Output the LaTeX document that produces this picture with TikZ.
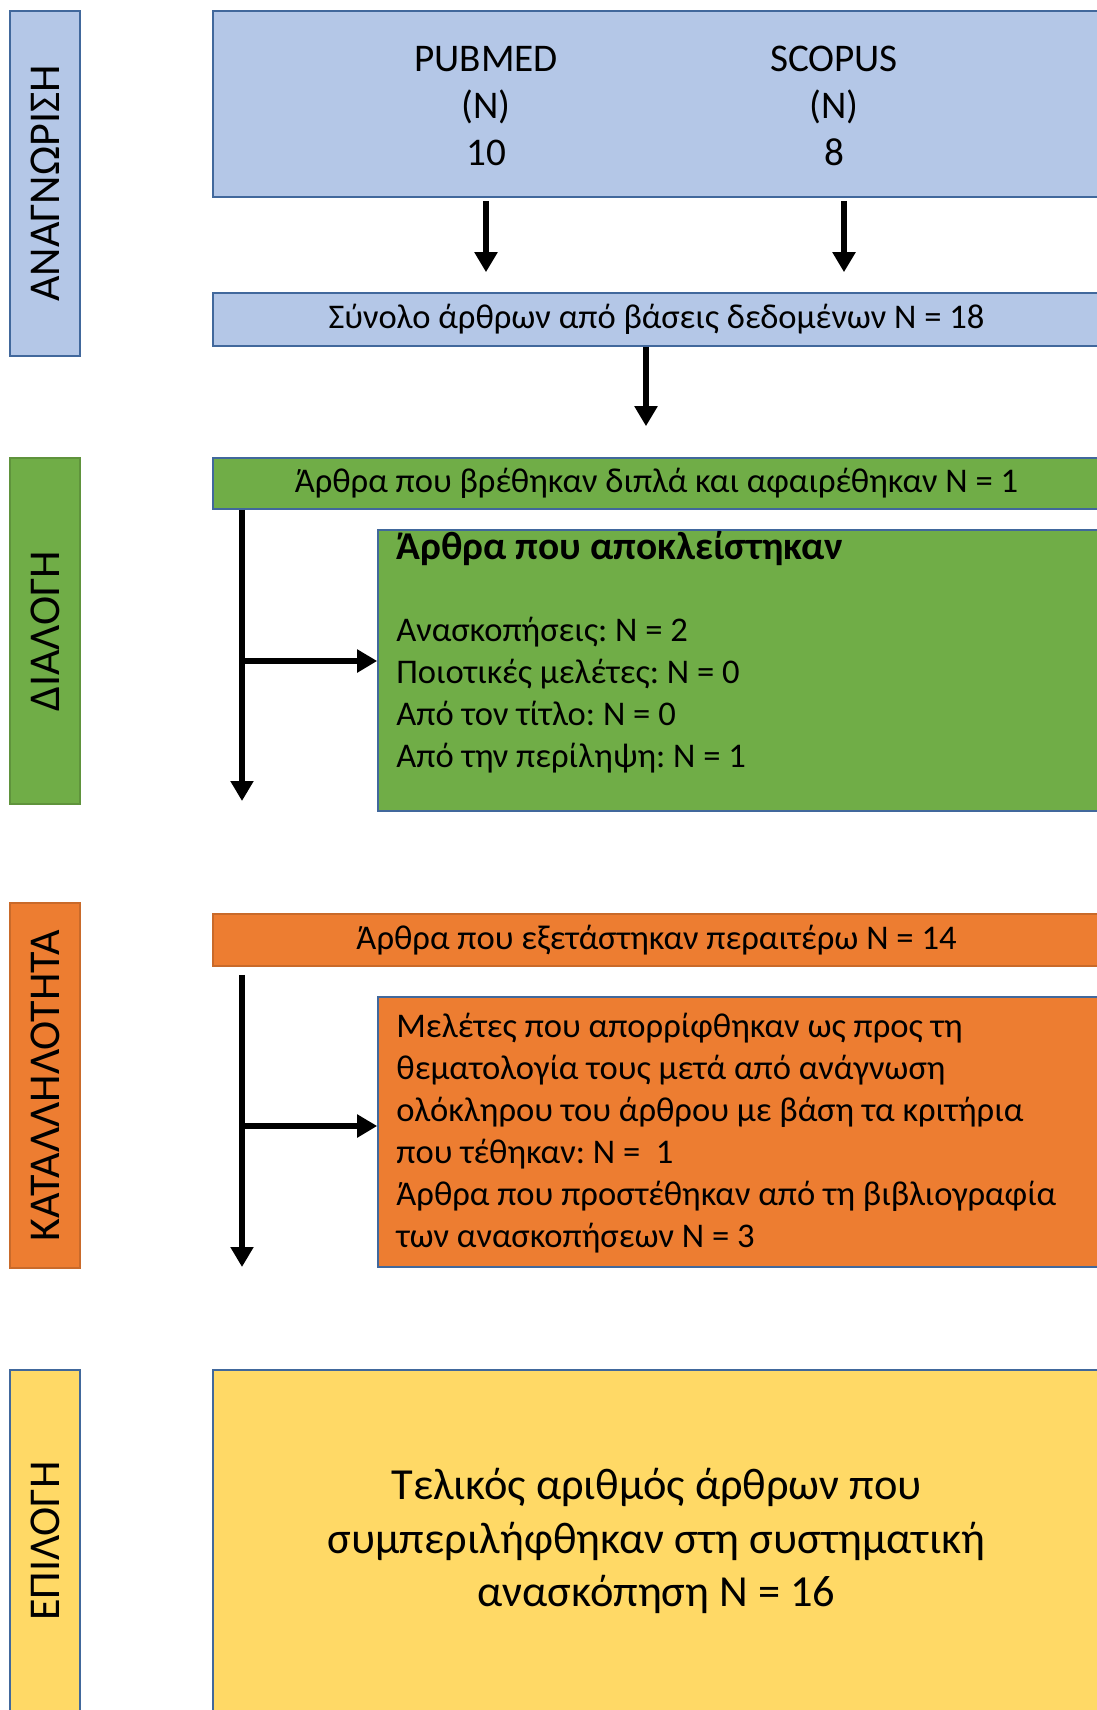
\documentclass[tikz,border=0pt]{standalone}
\usepackage{fontspec}
\setmainfont{Carlito}
\frenchspacing
\usetikzlibrary{arrows.meta, positioning}
\definecolor{identblue}{HTML}{B4C7E7}
\definecolor{screengreen}{HTML}{70AD47}
\definecolor{eligorange}{HTML}{ED7D31}
\definecolor{inclyellow}{HTML}{FFD966}
\definecolor{boxline}{HTML}{41689C}

\begin{document}
\begin{tikzpicture}[x=0.5pt, y=-0.5pt,
		box/.style={draw=boxline, line width=0.8pt, inner sep=0pt},
		stagebox/.style={box, rotate=90, minimum height=35pt,
			font=\fontsize{22}{26}\selectfont},
		wide/.style={minimum width=443.5pt},
		side/.style={minimum width=361pt},
		small/.style={font=\fontsize{17.3}{21}\selectfont},
		listtext/.style={small, align=left, anchor=west, inner sep=0pt},
		dbtext/.style={align=center, font=\fontsize{19.6}{23.7}\selectfont},
		flow/.style={-{Triangle[length=10pt, width=11pt]}, line width=2.8pt}]
	\clip (0,0) rectangle (1097,1710);
	%--- stage labels on the left ---
	\node[stagebox, fill=identblue, minimum width=172.5pt] (identlab) at (45,183.5) {ΑΝΑΓΝΩΡΙΣΗ};
	\node[stagebox, fill=screengreen, draw=screengreen!85!black, minimum width=173pt] (screenlab) at (45,631) {ΔΙΑΛΟΓΗ};
	\node[stagebox, fill=eligorange, draw=eligorange!85!black, minimum width=182.5pt] (eliglab) at (45,1085.5) {ΚΑΤΑΛΛΗΛΟΤΗΤΑ};
	\node[stagebox, fill=inclyellow, minimum width=171pt] (incllab) at (45,1541) {ΕΠΙΛΟΓΗ};
	%--- identification ---
	\node[box, wide, fill=identblue, minimum height=93pt] (dbbox) at (656.5,104) {};
	\node[dbtext] (pubmed) at (486,106) {PUBMED\\(N)\\10};
	\node[dbtext] (scopus) at (834,106) {SCOPUS\\(N)\\8};
	\node[box, wide, fill=identblue, minimum height=26.5pt, small] (total) at (656.5,319.5)
	{Σύνολο άρθρων από βάσεις δεδομένων N = 18};
	\draw[flow, shorten <=1.5pt, shorten >=10pt] (pubmed |- dbbox.south) -- (pubmed |- total.north);
	\draw[flow, shorten <=1.5pt, shorten >=10pt] ([xshift=5pt]scopus |- dbbox.south) -- ([xshift=5pt]scopus |- total.north);
	%--- screening ---
	\node[box, wide, fill=screengreen, minimum height=25.5pt, small] (dup) at (656.5,483.5)
	{Άρθρα που βρέθηκαν διπλά και αφαιρέθηκαν N = 1};
	\draw[flow, shorten >=15.5pt] ([xshift=-5.25pt]total.south) -- ([xshift=-5.25pt]dup.north);
	\node[box, side, fill=screengreen, minimum height=140.5pt] (excl) at (739,670.5) {};
	\node[anchor=west, inner sep=0pt, font=\bfseries\fontsize{19.7}{23}\selectfont] (excltitle) at (396,549)
	{Άρθρα που αποκλείστηκαν};
	\node[listtext] (excltext) at (396,695)
	{Ανασκοπήσεις: N = 2\\
		Ποιοτικές μελέτες: N = 0\\
		Από τον τίτλο: N = 0\\
		Από την περίληψη: N = 1};
	\coordinate (screenbot) at (242,801);
	\coordinate (screenbranch) at (242,661);
	\draw[flow] (dup.south -| screenbot) -- (screenbot);
	\draw[flow] (screenbranch) -- (screenbranch -| excl.west);
	%--- eligibility ---
	\node[box, wide, fill=eligorange, draw=eligorange!85!black, minimum height=26pt, small] (further) at (656.5,940)
	{Άρθρα που εξετάστηκαν περαιτέρω N = 14};
	\node[box, side, fill=eligorange, minimum height=135pt] (rejected) at (739,1132) {};
	\node[listtext] (rejtext) at (396,1133.5)
	{Μελέτες που απορρίφθηκαν ως προς τη\\
		θεματολογία τους μετά από ανάγνωση\\
		ολόκληρου του άρθρου με βάση τα κριτήρια\\
		που τέθηκαν: N =~ 1\\
		Άρθρα που προστέθηκαν από τη βιβλιογραφία\\
		των ανασκοπήσεων N = 3};
	\coordinate (eligbot) at (242,1267);
	\coordinate (eligbranch) at (242,1126);
	\draw[flow, shorten <=4pt] (further.south -| eligbot) -- (eligbot);
	\draw[flow] (eligbranch) -- (eligbranch -| rejected.west);
	%--- included ---
	\node[box, wide, fill=inclyellow, minimum height=171pt, align=center,
	font=\fontsize{22.2}{26.7}\selectfont] (final) at (656.5,1541)
	{Τελικός αριθμός άρθρων που\\
		συμπεριλήφθηκαν στη συστηματική\\
		ανασκόπηση N = 16};
\end{tikzpicture}
\end{document}
